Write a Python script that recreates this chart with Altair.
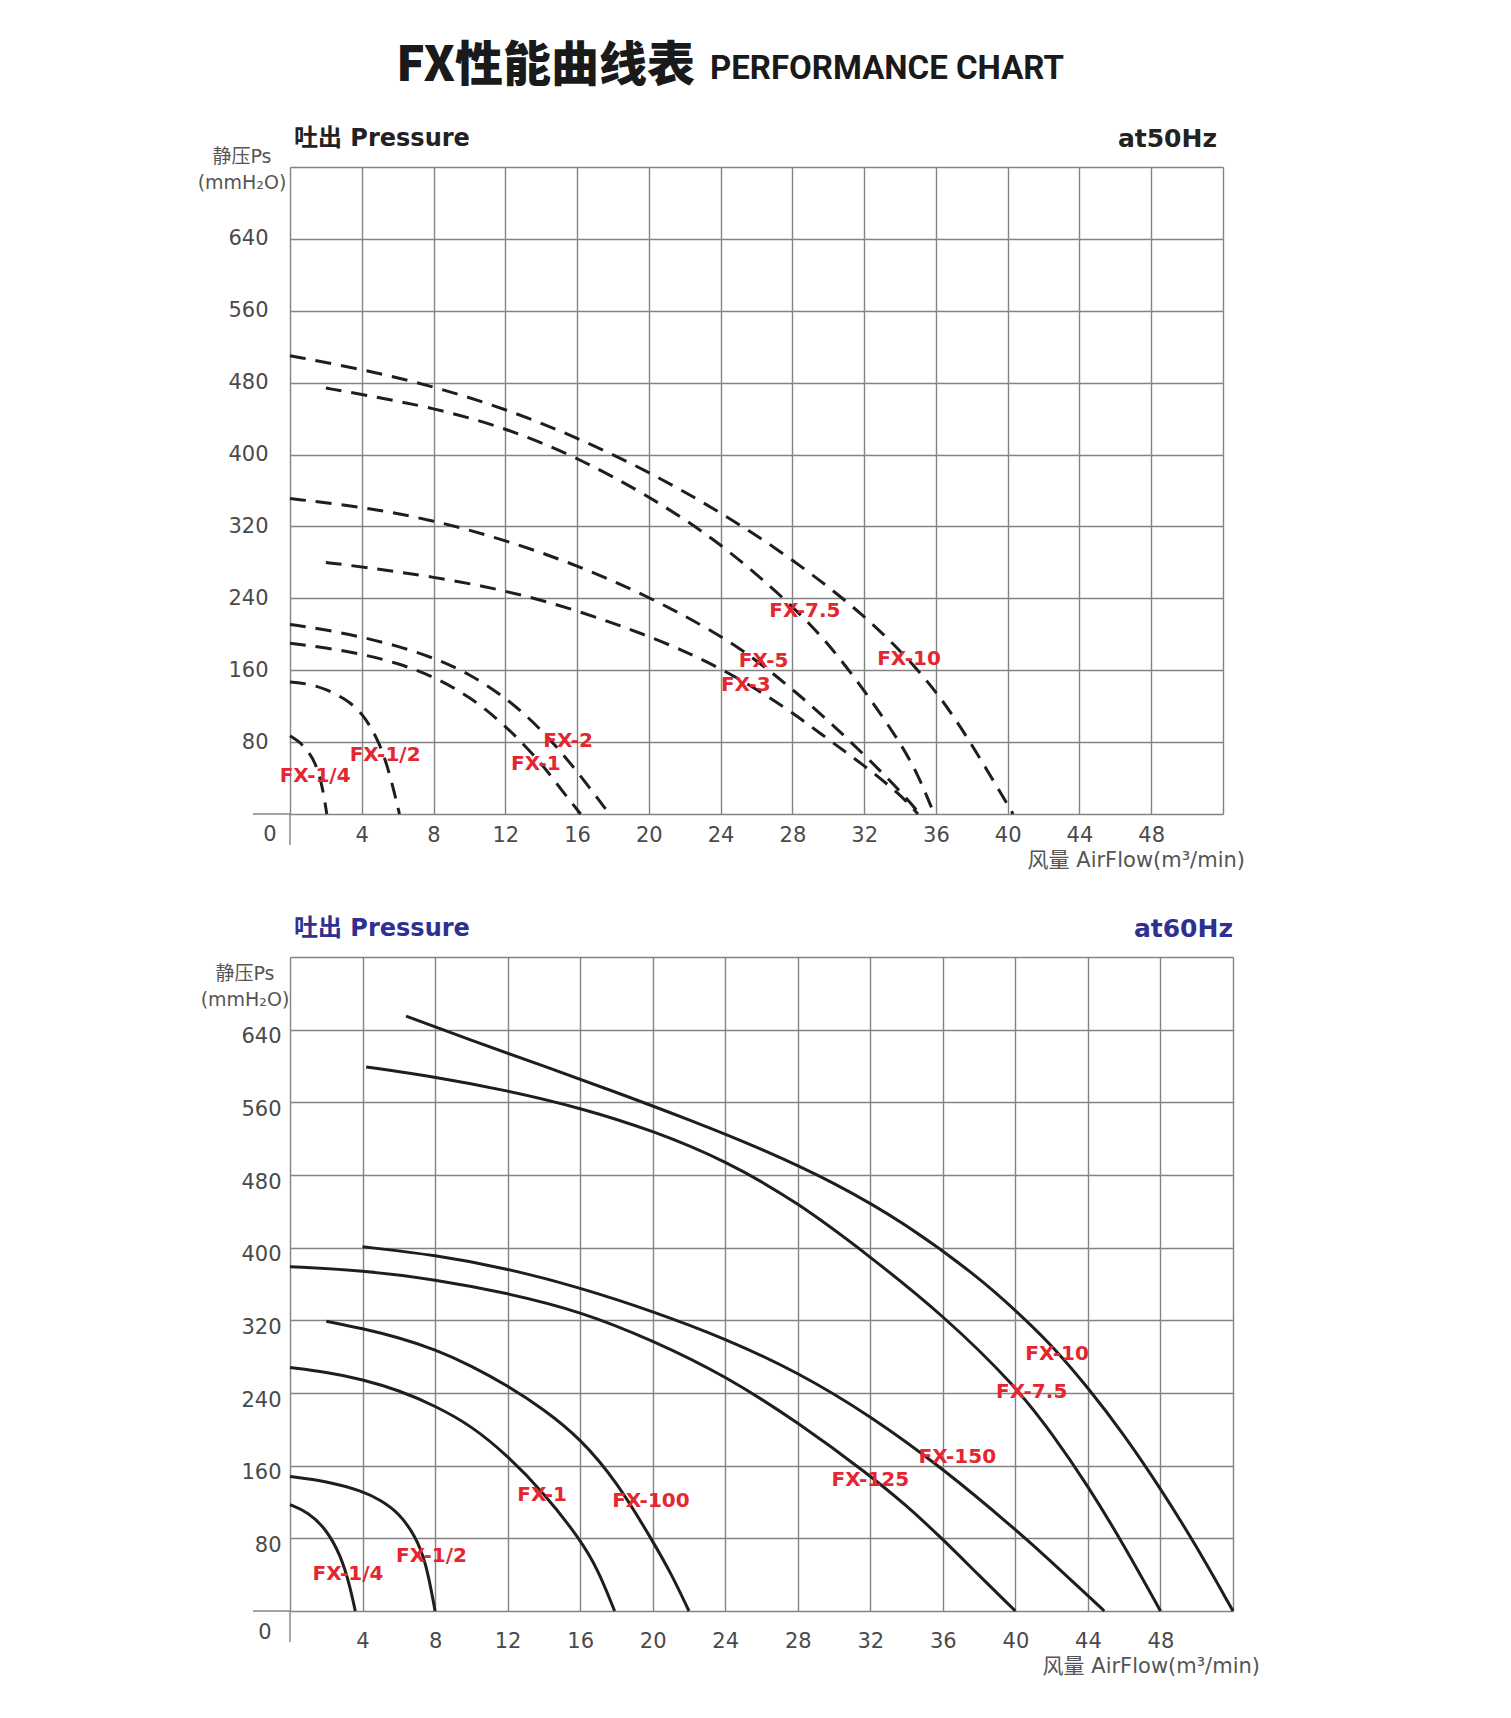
import altair as alt
import pandas as pd

# ---------------- 50 Hz curves (dashed) ----------------
fx14_50_x = [0, 0.5, 1.0, 1.4, 1.8, 2.05]
fx14_50_y = [87, 81, 70, 58, 32, 0]
fx12_50_x = [0, 1, 2, 3, 4, 5, 5.6, 6.1]
fx12_50_y = [147, 145, 139, 129, 114, 80, 42, 0]
fx1_50_x = [0, 2, 4, 6, 8, 10, 12, 14, 15, 16.2]
fx1_50_y = [190, 185, 178, 168, 153, 131, 99, 57, 30, 0]
fx2_50_x = [0, 2, 4, 6, 8, 10, 12, 14, 16, 17.8]
fx2_50_y = [211, 205, 197, 187, 174, 156, 130, 95, 48, 0]
fx3_50_x = [2, 4, 8, 12, 16, 20, 22, 24, 26, 28, 30, 32, 34, 35.0]
fx3_50_y = [280, 275, 264, 249, 227, 198, 181, 162, 139, 113, 83, 54, 22, 0]
fx5_50_x = [0, 4, 8, 12, 16, 20, 24, 26, 28, 30, 32, 34, 35.1]
fx5_50_y = [351, 342, 327, 305, 277, 242, 199, 171, 139, 104, 66, 26, 0]
fx75_50_x = [2, 4, 8, 12, 16, 20, 24, 28, 30, 32, 34, 35, 35.9]
fx75_50_y = [474, 467, 452, 430, 397, 354, 302, 232, 190, 138, 80, 44, 0]
fx10_50_x = [0, 4, 8, 12, 16, 20, 24, 28, 32, 35, 37, 39, 40.3]
fx10_50_y = [510, 495, 476, 451, 419, 381, 336, 284, 222, 162, 110, 44, 0]

names_50 = ["FX-1/4", "FX-1/2", "FX-1", "FX-2", "FX-3", "FX-5", "FX-7.5", "FX-10"]
xs_50 = [fx14_50_x, fx12_50_x, fx1_50_x, fx2_50_x, fx3_50_x, fx5_50_x, fx75_50_x, fx10_50_x]
ys_50 = [fx14_50_y, fx12_50_y, fx1_50_y, fx2_50_y, fx3_50_y, fx5_50_y, fx75_50_y, fx10_50_y]
lab_x_50 = [1.4, 5.3, 13.7, 15.5, 25.4, 26.4, 28.7, 34.5]
lab_y_50 = [42, 66, 56, 81, 144, 170, 226, 172]

# ---------------- 60 Hz curves (solid) ----------------
fx14_60_x = [0, 1, 2, 2.8, 3.3, 3.6]
fx14_60_y = [117, 109, 90, 61, 28, 0]
fx12_60_x = [0, 2, 4, 5, 6, 6.9, 7.5, 8]
fx12_60_y = [148, 143, 132, 122, 108, 83, 54, 0]
fx1_60_x = [0, 2, 4, 6, 8, 10, 12, 14, 16, 17, 17.9]
fx1_60_y = [268, 263, 255, 243, 226, 204, 171, 130, 79, 45, 0]
fx100_60_x = [2, 4, 6, 8, 10, 12, 14, 16, 18, 20, 21, 22]
fx100_60_y = [319, 311, 301, 288, 270, 248, 222, 190, 143, 77, 42, 0]
fx125_60_x = [0, 4, 8, 12, 16, 20, 24, 28, 32, 34, 36, 38, 40]
fx125_60_y = [379, 375, 365, 350, 330, 298, 259, 208, 149, 116, 79, 39, 0]
fx150_60_x = [4, 8, 12, 16, 20, 24, 28, 32, 36, 40, 42, 44, 44.9]
fx150_60_y = [401, 392, 377, 356, 330, 300, 263, 215, 157, 90, 54, 17, 0]
fx75_60_x = [4.2, 8, 12, 16, 20, 24, 28, 32, 36, 40, 42, 44, 46, 48]
fx75_60_y = [599, 588, 573, 554, 529, 496, 450, 390, 326, 248, 196, 138, 72, 0]
fx10_60_x = [6.4, 10, 14, 18, 22, 26, 30, 34, 38, 40, 42, 44, 46, 48, 50, 52]
fx10_60_y = [655, 628, 600, 571, 541, 509, 472, 426, 367, 331, 293, 246, 194, 135, 71, 0]

names_60 = ["FX-1/4", "FX-1/2", "FX-1", "FX-100", "FX-125", "FX-150", "FX-7.5", "FX-10"]
xs_60 = [fx14_60_x, fx12_60_x, fx1_60_x, fx100_60_x, fx125_60_x, fx150_60_x, fx75_60_x, fx10_60_x]
ys_60 = [fx14_60_y, fx12_60_y, fx1_60_y, fx100_60_y, fx125_60_y, fx150_60_y, fx75_60_y, fx10_60_y]
lab_x_60 = [3.2, 7.8, 13.9, 19.9, 32.0, 36.8, 40.9, 42.3]
lab_y_60 = [41, 61, 128, 121, 144, 169, 241, 283]

x_grid = list(range(0, 53, 2))
y_grid = list(range(0, 721, 40))

FONT = "DejaVu Sans, Noto Sans CJK SC, sans-serif"
CJK = "Noto Sans CJK SC, sans-serif"
GRID = "#838383"
RED = "#e5252f"


def curves_df(names, xs, ys):
    rows = []
    for n, xx, yy in zip(names, xs, ys):
        for i, (a, b) in enumerate(zip(xx, yy)):
            rows.append({"series": n, "x": a, "y": b, "i": i})
    return pd.DataFrame(rows)


def one(text):
    return pd.DataFrame({"t": [text]})


def panel(names, xs, ys, lx, ly, W, H, dashed, head_color, hz, hz_dx, ylab_pad, ylab_off,
          xlab_pad, ytitle_x, ytitle_dy, zero_dx, zero_dy, xtitle_dx, xtitle_dy):
    df = curves_df(names, xs, ys)
    xs_scale = alt.Scale(domain=[0, 52], nice=False, zero=False)
    ys_scale = alt.Scale(domain=[0, 720], nice=False, zero=False)
    x_axis = alt.Axis(values=x_grid, grid=True, gridColor=GRID, gridWidth=1.4,
                      domain=False, ticks=False, tickSize=0, title=None,
                      labelExpr="(datum.value % 4 == 0 && datum.value > 0 && datum.value <= 48) ? datum.label : ''",
                      labelFontSize=21, labelColor="#4a4a4a", labelFont=FONT,
                      labelPadding=xlab_pad, labelOverlap=False, labelFlush=False)
    y_axis = alt.Axis(values=y_grid, grid=True, gridColor=GRID, gridWidth=1.4,
                      domain=False, ticks=False, tickSize=0, title=None,
                      labelExpr="(datum.value % 80 == 0 && datum.value > 0 && datum.value <= 640) ? datum.label : ''",
                      labelFontSize=21, labelColor="#4a4a4a", labelFont=FONT,
                      labelPadding=ylab_pad, labelOffset=ylab_off,
                      labelOverlap=False, labelFlush=False)
    line_kw = dict(strokeWidth=3, color="#1e1e1e", interpolate="basis")
    if dashed:
        line_kw["strokeDash"] = [16, 10]
    lines = alt.Chart(df).mark_line(**line_kw).encode(
        x=alt.X("x:Q", scale=xs_scale, axis=x_axis),
        y=alt.Y("y:Q", scale=ys_scale, axis=y_axis),
        detail="series:N",
        order="i:Q",
    )
    lab_df = pd.DataFrame({"name": names, "x": lx, "y": ly})
    labels = alt.Chart(lab_df).mark_text(fontSize=20, fontWeight="bold", color=RED,
                                         font=FONT, align="center", baseline="middle").encode(
        x=alt.X("x:Q", scale=xs_scale), y=alt.Y("y:Q", scale=ys_scale), text="name:N")
    zero = alt.Chart(pd.DataFrame({"x": [0], "y": [0], "t": ["0"]})).mark_text(
        fontSize=21, color="#4a4a4a", font=FONT, align="center", baseline="middle",
        dx=zero_dx, dy=zero_dy).encode(
        x=alt.X("x:Q", scale=xs_scale), y=alt.Y("y:Q", scale=ys_scale), text="t:N")
    ext_h = alt.Chart(one("")).mark_rule(color=GRID, strokeWidth=1.4).encode(
        x=alt.value(-37), x2=alt.value(0), y=alt.value(H))
    ext_v = alt.Chart(one("")).mark_rule(color=GRID, strokeWidth=1.4).encode(
        x=alt.value(0), y=alt.value(H), y2=alt.value(H + 31))
    head = alt.Chart(one("吐出 Pressure")).mark_text(
        fontSize=24, fontWeight="bold", color=head_color, font=FONT,
        align="left", baseline="middle").encode(
        text="t:N", x=alt.value(4), y=alt.value(-28))
    hz_t = alt.Chart(one(hz)).mark_text(
        fontSize=25, fontWeight="bold", color=head_color, font=FONT,
        align="right", baseline="middle").encode(
        text="t:N", x=alt.value(W + hz_dx), y=alt.value(-28))
    yt1 = alt.Chart(one("静压Ps")).mark_text(
        fontSize=19, color="#555555", font=FONT, align="center", baseline="middle").encode(
        text="t:N", x=alt.value(ytitle_x), y=alt.value(ytitle_dy))
    yt2 = alt.Chart(one("(mmH₂O)")).mark_text(
        fontSize=19, color="#555555", font=FONT, align="center", baseline="middle").encode(
        text="t:N", x=alt.value(ytitle_x), y=alt.value(ytitle_dy + 26))
    xt = alt.Chart(one("风量 AirFlow(m³/min)")).mark_text(
        fontSize=21, color="#555555", font=FONT, align="right", baseline="middle").encode(
        text="t:N", x=alt.value(W + xtitle_dx), y=alt.value(H + xtitle_dy))
    layers = [lines, labels, zero, ext_h, ext_v, head, hz_t, yt1, yt2, xt]
    return alt.layer(*layers).properties(width=W, height=H)


top = panel(names_50, xs_50, ys_50, lab_x_50, lab_y_50, 933, 647, True, "#222222", "at50Hz",
            hz_dx=-6, ylab_pad=22, ylab_off=0, xlab_pad=10, ytitle_x=-48, ytitle_dy=-10,
            zero_dx=-20, zero_dy=21, xtitle_dx=22, xtitle_dy=47)
title_cjk = alt.Chart(one("FX性能曲线表")).mark_text(
    fontSize=48, fontWeight=900, color="#1a1a1a", font=CJK, align="right", baseline="middle").encode(
    text="t:N", x=alt.value(405), y=alt.value(-100))
title_en = alt.Chart(one("PERFORMANCE CHART")).mark_text(
    fontSize=33, fontWeight="bold", color="#1a1a1a",
    font="Roboto, DejaVu Sans, sans-serif",
    align="left", baseline="middle").encode(
    text="t:N", x=alt.value(420), y=alt.value(-98))
top = alt.layer(top, title_cjk, title_en)

bottom = panel(names_60, xs_60, ys_60, lab_x_60, lab_y_60, 943, 654, False, "#2e3192", "at60Hz",
               hz_dx=0, ylab_pad=9, ylab_off=7, xlab_pad=19, ytitle_x=-45, ytitle_dy=17,
               zero_dx=-25, zero_dy=22, xtitle_dx=27, xtitle_dy=56)

chart = alt.vconcat(top, bottom, spacing=143, bounds="flush").properties(
    padding={"left": 189, "top": 34, "right": 20, "bottom": 20}
).configure_view(stroke=None).configure(background="white")

chart.save("out.html", embed_options={"renderer": "svg", "actions": False})
